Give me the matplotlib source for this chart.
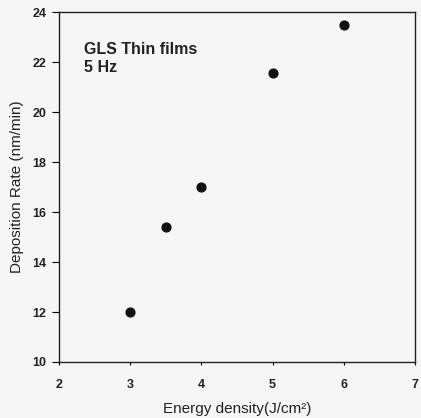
import matplotlib
matplotlib.use("Agg")
import matplotlib.pyplot as plt

plt.rcParams['font.family'] = ['Liberation Sans', 'DejaVu Sans']

# energy density (J/cm2) vs deposition rate (nm/min)
energy = [3.0, 3.5, 4.0, 5.0, 6.0]
rate = [12.0, 15.4, 17.0, 21.55, 23.5]
x_ticks = [2, 3, 4, 5, 6, 7]
y_ticks = [10, 12, 14, 16, 18, 20, 22, 24]

fig = plt.figure(figsize=(4.21, 4.18), dpi=100)
fig.patch.set_facecolor('#f6f6f6')
ax = fig.add_axes([0.140, 0.134, 0.846, 0.837])
ax.set_facecolor('#f6f6f6')

ax.scatter(energy, rate, s=40, color='#111111', zorder=3)

ax.set_xlim(2, 7)
ax.set_ylim(10, 24)
ax.set_xticks(x_ticks)
ax.set_yticks(y_ticks)
ax.tick_params(axis='x', direction='out', length=2, width=0.8, labelsize=9, pad=10)
ax.tick_params(axis='y', direction='out', length=5, width=0.8, labelsize=9, pad=4)
for lab in ax.get_xticklabels() + ax.get_yticklabels():
    lab.set_fontweight('bold')
    lab.set_color('#222222')
for s in ax.spines.values():
    s.set_linewidth(1.0)
    s.set_color('#222222')

ax.set_xlabel('Energy density(J/cm²)', fontsize=11, labelpad=8, color='#222222')
ax.set_ylabel('Deposition Rate (nm/min)', fontsize=11, labelpad=6, color='#222222')

ax.text(0.07, 0.915, 'GLS Thin films\n5 Hz', transform=ax.transAxes,
        fontsize=11.5, fontweight='bold', va='top', ha='left', linespacing=1.25,
        color='#222222')

fig.savefig('out.png', dpi=100, facecolor=fig.get_facecolor())
